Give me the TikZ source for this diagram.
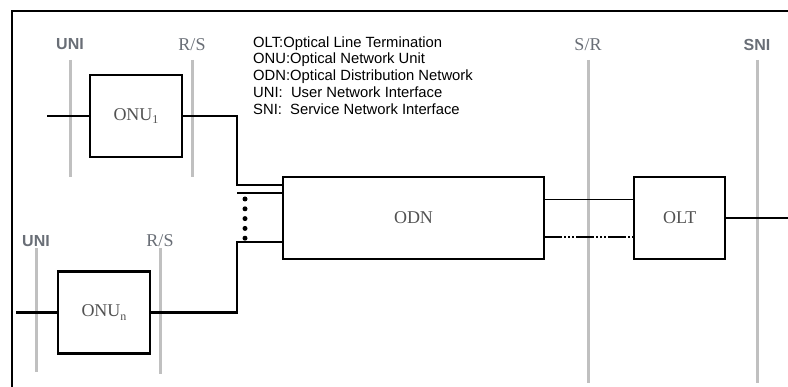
\documentclass[tikz,border=0pt]{standalone}
\usepackage{fontspec}
\setmainfont{Liberation Serif}
\setsansfont{Liberation Sans}
\usepackage{xcolor}
\usepackage{tikz}
\usetikzlibrary{positioning}

\definecolor{ifgray}{RGB}{105,110,118}
\definecolor{refgray}{RGB}{192,192,192}
\newcommand{\lowsub}[1]{\raisebox{-3.5pt}{\fontsize{12}{12}\selectfont #1}}

\begin{document}
\begin{tikzpicture}[x=1pt, y=-1pt,
    unit/.style={rectangle, draw=black, line width=2.2pt, minimum width=92pt, minimum height=82pt, inner sep=0pt, text=black!68, font=\fontsize{18}{21}\selectfont},
    ifsans/.style={anchor=base, text=ifgray, font=\fontsize{16}{19}\selectfont\sffamily\bfseries},
    ifserif/.style={anchor=base, text=ifgray, font=\fontsize{18}{21}\selectfont},
    iface/.style={draw=refgray, line width=3pt},
    line/.style={draw, line width=2.2pt},
    fibre/.style={draw, line width=0.9pt},
    legend/.style={anchor=north west, align=left, inner sep=0pt, font=\fontsize{14.8}{16.7}\selectfont\sffamily}]

    \useasboundingbox (0,0) rectangle (788,387);

    % reference points
    \draw [iface] (70,60) -- (70,177);
    \draw [iface] (192,60) -- (192,177);
    \draw [iface] (36,248) -- (36,372);
    \draw [iface] (160,248) -- (160,374);
    \draw [iface] (588,60) -- (588,383);
    \draw [iface] (757,60) -- (757,383);

    \node [ifsans] (uni1) at (70,50) {UNI};
    \node [ifserif] (rs1) at (192,50.5) {R/S};
    \node [ifsans] (uni2) at (36,247) {UNI};
    \node [ifserif] (rs2) at (160,247) {R/S};
    \node [ifserif] (sr) at (588,50.5) {S/R};
    \node [ifsans] (sni) at (757,50.5) {SNI};

    % frame
    \draw [line width=2.2pt] (12,387) -- (12,11) -- (788,11);

    \node [legend] (abbr) at (253,36.3) {OLT:Optical Line Termination\\
        ONU:Optical Network Unit\\
        ODN:Optical Distribution Network\\
        UNI:\ \ User Network Interface\\
        SNI:\ \ Service Network Interface};

    \node [unit] (onu1) at (136,116) {ONU\lowsub{1}};
    \node [unit] (onun) at (104,312.5) {ONU\lowsub{n}};
    \node [unit, minimum width=261pt] (odn) at (413.5,218) {ODN};
    \node [unit, minimum width=91pt, right=88pt of odn] (olt) {OLT};

    \coordinate (in1) at (47,116);
    \coordinate (inn) at (16,312.5);
    \coordinate (j1) at (237,185);
    \coordinate (j2) at (237,193);
    \coordinate (j3) at (237,242);
    \coordinate (t1) at (544,199);
    \coordinate (t2) at (544,237);
    \coordinate (snio) at (788,218);

    \path [line] (in1) -- (onu1.west);
    \path [line] (inn) -- (onun.west);
    \path [line] (onu1.east) -| (j1) -- (j1 -| odn.west);
    \path [line] (j2) -- (j2 -| odn.west);
    \path [line] (onun.east) -| (j3) -- (j3 -| odn.west);
    \draw [line width=5pt, line cap=round, dash pattern=on 0pt off 9.8pt] (245,199) -- (245,239);

    \path [fibre] (t1) -- (t1 -| olt.west);
    \path [line, dash pattern=on 18pt off 2pt on 2pt off 2pt on 2pt off 2pt on 2pt off 2pt] (t2) -- (t2 -| olt.west);
    \path [line] (olt.east) -- (snio);
\end{tikzpicture}
\end{document}
